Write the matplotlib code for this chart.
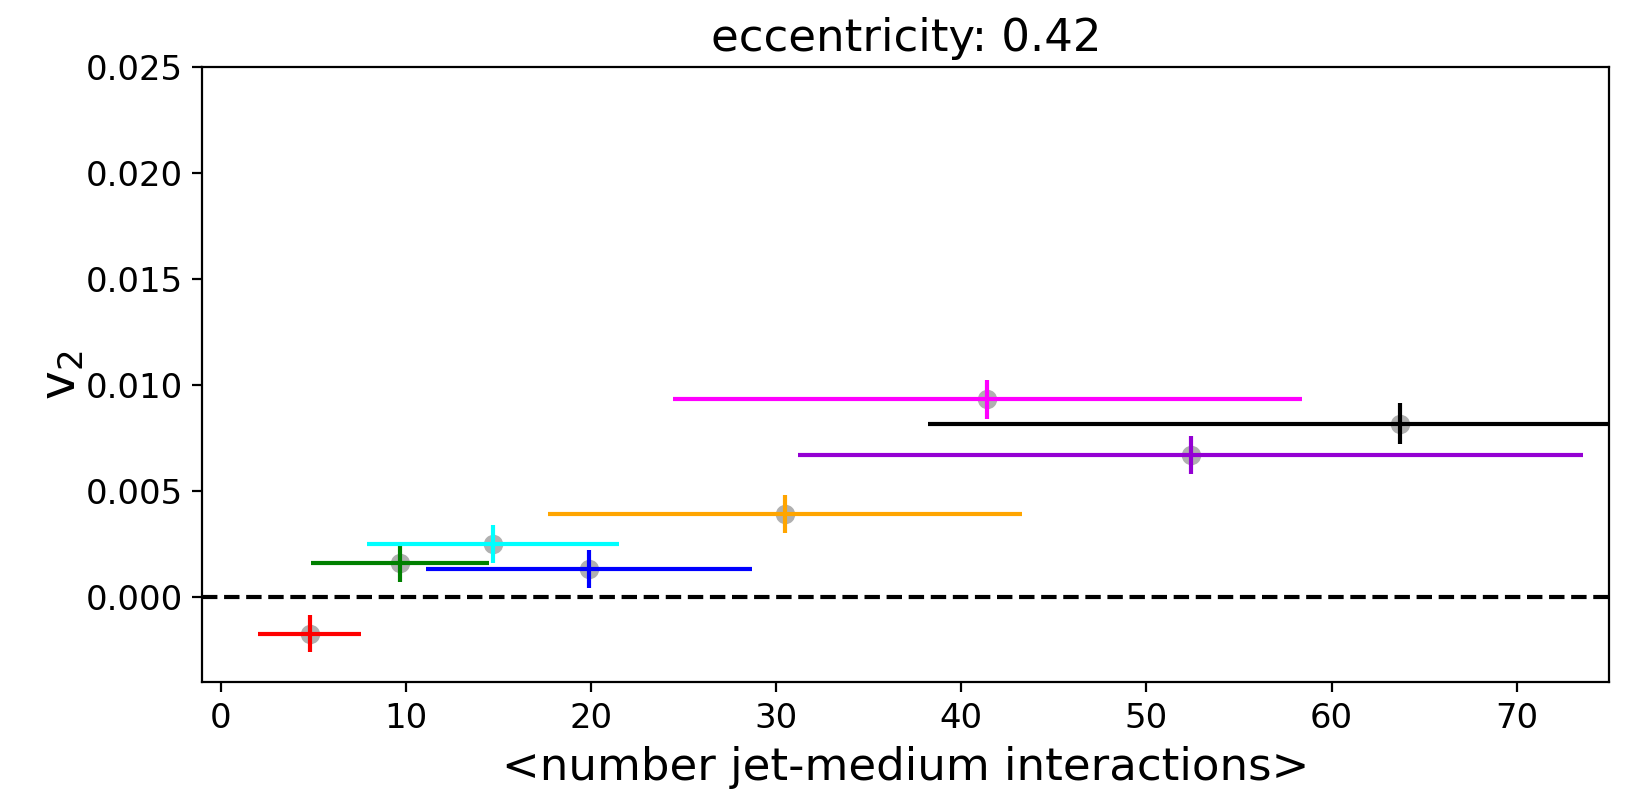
import matplotlib
matplotlib.use("Agg")
import matplotlib.pyplot as plt

# data
x_vals = [4.8, 9.7, 14.7, 19.9, 30.5, 41.4, 52.4, 63.7]
x_errs = [2.8, 4.8, 6.8, 8.8, 12.8, 17.0, 21.2, 25.5]
v2_vals = [-0.00170, 0.00162, 0.00253, 0.00134, 0.00392, 0.00934, 0.00670, 0.00820]
v2_errs = [0.00088, 0.00088, 0.00090, 0.00091, 0.00090, 0.00092, 0.00090, 0.00095]
colors = ["red", "green", "cyan", "blue", "orange", "magenta", "darkviolet", "black"]
title = "eccentricity: 0.42"
xlabel = "<number jet-medium interactions>"
ylabel = "v$_2$"

fig = plt.figure(figsize=(8.195, 3.95), dpi=200)
ax = fig.add_axes([0.1234, 0.1363, 0.9819 - 0.1234, 0.9148 - 0.1363])

for x, xe, y, ye, c in zip(x_vals, x_errs, v2_vals, v2_errs, colors):
    ax.plot([x], [y], "o", color="#b0b0b0", markersize=6, zorder=2)
    ax.errorbar([x], [y], xerr=[xe], yerr=[ye], fmt="none", ecolor=c,
                elinewidth=1.5, zorder=3)

ax.axhline(0, color="black", linestyle="--", linewidth=1.5, zorder=1)

ax.set_xlim(-1, 75)
ax.set_ylim(-0.004, 0.025)
ax.set_yticks([0.0, 0.005, 0.010, 0.015, 0.020, 0.025])
ax.set_yticklabels(["0.000", "0.005", "0.010", "0.015", "0.020", "0.025"])
ax.tick_params(labelsize=12.2)
ax.set_title(title, fontsize=16.2)
ax.set_xlabel(xlabel, fontsize=16.2)
ax.set_ylabel(ylabel, fontsize=17.5, labelpad=0)

fig.savefig("out.png", dpi=200)
